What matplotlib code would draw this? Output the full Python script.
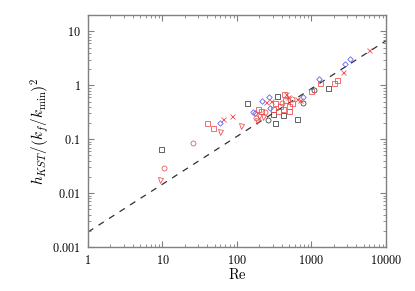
import matplotlib
matplotlib.use("Agg")
import matplotlib.pyplot as plt
from matplotlib.ticker import FixedLocator, FixedFormatter, LogLocator, NullFormatter

plt.rcParams['mathtext.fontset'] = 'cm'
plt.rcParams['font.family'] = ['DejaVu Serif']

# ---- data ----
blk_sq_re = [9.55, 137, 341, 301, 324, 418, 633, 1649]
blk_sq_v = [0.0656, 0.475, 0.637, 0.296, 0.199, 0.279, 0.242, 0.879]

blk_ci_re = [261, 776, 1091]
blk_ci_v = [0.231, 0.461, 0.806]

blu_di_re = [59.1, 165, 172, 217, 269, 277, 762, 1273, 2844, 3318]
blu_di_v = [0.203, 0.320, 0.30, 0.502, 0.610, 0.372, 0.604, 1.31, 2.47, 3.06]

red_sq_re = [39.6, 47.2, 191, 210, 431, 985, 1300, 2005, 2180,
             304, 355, 378, 414, 499, 499, 441, 547, 324]
red_sq_v = [0.201, 0.159, 0.356, 0.334, 0.700, 0.773, 1.12, 1.09, 1.26,
            0.356, 0.327, 0.405, 0.356, 0.405, 0.327, 0.525, 0.461, 0.461]

red_ci_re = [10.6, 25.4, 178, 238, 402, 547]
red_ci_v = [0.029, 0.086, 0.249, 0.313, 0.461, 0.547]

red_tr_re = [9.25, 58.6, 112, 187, 223, 197]
red_tr_v = [0.0175, 0.134, 0.173, 0.215, 0.263, 0.275]

red_x_re = [64.9, 86.5, 283, 491, 633, 701, 2624, 5970, 245, 455]
red_x_v = [0.239, 0.269, 0.518, 0.597, 0.547, 0.524, 1.77, 4.57, 0.481, 0.679]

line_re = [1, 10000]
line_v = [0.0019, 6.7]

xticks = [1, 10, 100, 1000, 10000]
xtick_labels = ['1', '10', '100', '1000', '10000']
yticks = [0.001, 0.01, 0.1, 1, 10]
ytick_labels = ['0.001', '0.01', '0.1', '1', '10']

# ---- figure ----
fig = plt.figure(figsize=(4.15, 2.91), dpi=100)
ax = fig.add_axes([0.212, 0.151, 0.718, 0.797])
ax.set_xscale('log')
ax.set_yscale('log')
ax.set_xlim(1, 10000)
ax.set_ylim(0.001, 20)

red = '#f04848'
blue = '#5858f0'
black = '#383838'
ms = 3.6
lw = 0.55

ax.plot(line_re, line_v, ls=(0, (5, 5)), color='#303030', lw=0.9, zorder=1)

ax.plot(blk_sq_re, blk_sq_v, ls='none', marker='s', ms=ms, mfc='none', mec=black, mew=lw)
ax.plot(blk_ci_re, blk_ci_v, ls='none', marker='o', ms=ms, mfc='none', mec=black, mew=lw)
ax.plot(blu_di_re, blu_di_v, ls='none', marker='D', ms=ms - 0.8, mfc='none', mec=blue, mew=lw)
ax.plot(red_sq_re, red_sq_v, ls='none', marker='s', ms=ms, mfc='none', mec=red, mew=lw)
ax.plot(red_ci_re, red_ci_v, ls='none', marker='o', ms=ms, mfc='none', mec=red, mew=lw)
ax.plot(red_tr_re, red_tr_v, ls='none', marker='v', ms=ms, mfc='none', mec=red, mew=lw)
ax.plot(red_x_re, red_x_v, ls='none', marker='x', ms=ms, mfc='none', mec=red, mew=lw)

for s in ax.spines.values():
    s.set_color('#808080')
    s.set_linewidth(1.0)

ax.xaxis.set_major_locator(FixedLocator(xticks))
ax.xaxis.set_major_formatter(FixedFormatter([r'$\mathrm{%s}$' % t for t in xtick_labels]))
ax.yaxis.set_major_locator(FixedLocator(yticks))
ax.yaxis.set_major_formatter(FixedFormatter([r'$\mathrm{%s}$' % t for t in ytick_labels]))
ax.xaxis.set_minor_locator(LogLocator(base=10, subs=range(2, 10)))
ax.yaxis.set_minor_locator(LogLocator(base=10, subs=range(2, 10)))
ax.xaxis.set_minor_formatter(NullFormatter())
ax.yaxis.set_minor_formatter(NullFormatter())
ax.tick_params(which='both', direction='in', top=True, right=True, color='#808080')
ax.tick_params(which='major', length=4, width=0.8, labelsize=8.8, pad=5)
ax.tick_params(which='minor', length=2, width=0.6)

ax.set_xlabel(r'$\mathrm{Re}$', fontsize=10.5, labelpad=0)
ax.set_ylabel(r'$h_{KST}/\left(k_f/k_{\mathrm{min}}\right)^2$', fontsize=11, labelpad=1)

fig.savefig('out.png', dpi=100)
